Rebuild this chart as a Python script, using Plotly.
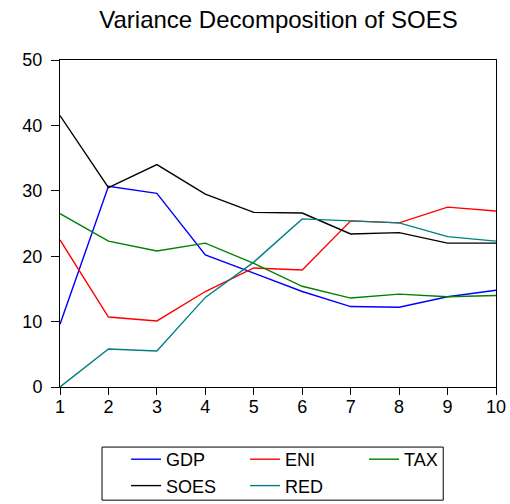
import plotly.graph_objects as go

periods = [1, 2, 3, 4, 5, 6, 7, 8, 9, 10]
gdp = [9.6, 30.7, 29.6, 20.2, 17.4, 14.6, 12.3, 12.2, 13.8, 14.8]
eni = [22.5, 10.7, 10.1, 14.6, 18.2, 17.9, 25.4, 25.1, 27.5, 26.9]
tax = [26.5, 22.3, 20.8, 22.0, 18.9, 15.4, 13.6, 14.2, 13.8, 14.0]
soes = [41.5, 30.5, 34.0, 29.5, 26.7, 26.6, 23.4, 23.6, 22.0, 22.0]
red = [0.0, 5.8, 5.5, 13.7, 19.1, 25.7, 25.4, 25.1, 23.0, 22.3]

series = [("GDP", gdp, "#0000FF"), ("ENI", eni, "#FF0000"), ("TAX", tax, "#008000"),
          ("SOES", soes, "#000000"), ("RED", red, "#008080")]

fig = go.Figure()
for name, vals, col in series:
    fig.add_trace(go.Scatter(x=periods, y=vals, mode="lines", name=name,
                             line=dict(color=col, width=1.4)))

font = "Liberation Sans, Arial, sans-serif"
fig.update_layout(
    width=510, height=504,
    margin=dict(l=60, r=14, t=60, b=117),
    paper_bgcolor="white", plot_bgcolor="white",
    font=dict(family=font, size=18, color="black"),
    title=dict(text="Variance Decomposition of SOES", x=0.546, xanchor="center",
               y=0.962, yanchor="middle", font=dict(size=24, family=font)),
    showlegend=True,
    legend=dict(orientation="h", x=0.1515, xanchor="left", xref="paper",
                yref="container", y=0.125, yanchor="top",
                borderwidth=0, entrywidth=74, entrywidthmode="pixels",
                bgcolor="rgba(0,0,0,0)", font=dict(size=18, family=font)),
    shapes=[dict(type="rect", xref="paper", yref="paper", x0=0.0964, x1=0.879,
                 y0=-0.1837, y1=-0.346, line=dict(color="black", width=1))],
)
fig.update_xaxes(range=[1, 10], tickvals=periods, showgrid=False, zeroline=False,
                 showline=True, linecolor="black", linewidth=1, mirror=True, automargin=False,
                 ticks="outside", ticklen=7, tickcolor="black", tickfont=dict(size=18),
                 ticklabelstandoff=-4)
fig.update_yaxes(range=[0, 50], tickvals=[0, 10, 20, 30, 40, 50], showgrid=False, zeroline=False,
                 showline=True, linecolor="black", linewidth=1, mirror=True, automargin=False,
                 ticks="outside", ticklen=8, tickcolor="black", tickfont=dict(size=18),
                 ticklabelstandoff=5)

fig.write_html("out.html", config={"displayModeBar": False},
               post_script="document.body.style.margin='0';")
